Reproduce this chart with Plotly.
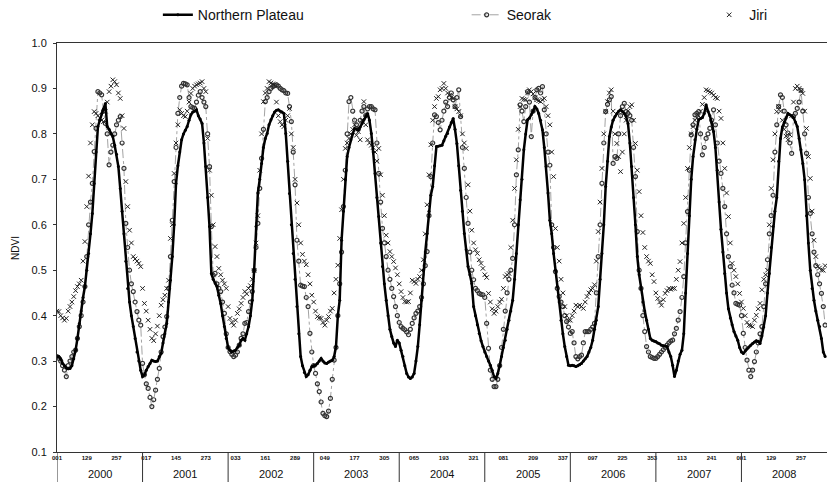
import plotly.graph_objects as go

# ---------------- data (8-day composites, 46 per year) ----------------
YEARS = ["2000", "2001", "2002", "2003", "2004", "2005", "2006", "2007", "2008"]

TICK_LABELS = ["001", "129", "257", "017", "145", "273", "033", "161", "289",
               "049", "177", "305", "065", "193", "321", "081", "209", "337",
               "097", "225", "353", "113", "241", "001", "129", "257"]

NORTHERN_PLATEAU = [
    # 2000
    0.31, 0.31, 0.305, 0.295, 0.29, 0.285, 0.283, 0.284, 0.29, 0.305, 0.324, 0.35, 0.383, 0.41, 0.44, 0.464,
    0.50, 0.537, 0.58, 0.625, 0.691, 0.76, 0.816, 0.83, 0.845, 0.855, 0.867, 0.816, 0.81, 0.80, 0.794, 0.775,
    0.755, 0.728, 0.68, 0.63, 0.58, 0.52, 0.46, 0.43, 0.40, 0.376, 0.35, 0.32, 0.30, 0.28,
    # 2001
    0.266, 0.27, 0.28, 0.288, 0.295, 0.302, 0.30, 0.299, 0.30, 0.31, 0.317, 0.34, 0.36, 0.383, 0.43, 0.478,
    0.53, 0.60, 0.691, 0.73, 0.76, 0.787, 0.80, 0.808, 0.816, 0.83, 0.842, 0.848, 0.85, 0.853, 0.84, 0.833,
    0.823, 0.78, 0.728, 0.66, 0.596, 0.493, 0.48, 0.472, 0.464, 0.445, 0.427, 0.40, 0.376, 0.35,
    # 2002
    0.33, 0.324, 0.32, 0.322, 0.324, 0.33, 0.335, 0.346, 0.35, 0.346, 0.36, 0.376, 0.40, 0.434, 0.50, 0.596,
    0.67, 0.70, 0.735, 0.77, 0.79, 0.801, 0.82, 0.831, 0.84, 0.848, 0.852, 0.853, 0.85, 0.848, 0.845, 0.801,
    0.74, 0.669, 0.60, 0.537, 0.48, 0.42, 0.36, 0.31, 0.29, 0.275, 0.266, 0.27, 0.28, 0.288,
    # 2003
    0.29, 0.291, 0.295, 0.30, 0.306, 0.30, 0.296, 0.295, 0.298, 0.30, 0.302, 0.31, 0.332, 0.40, 0.434, 0.566,
    0.63, 0.699, 0.75, 0.77, 0.787, 0.80, 0.812, 0.81, 0.809, 0.815, 0.823, 0.831, 0.84, 0.845, 0.83, 0.801,
    0.76, 0.713, 0.66, 0.618, 0.56, 0.508, 0.47, 0.434, 0.40, 0.37, 0.354, 0.34, 0.332, 0.346,
    # 2004
    0.34, 0.324, 0.31, 0.29, 0.273, 0.265, 0.262, 0.265, 0.273, 0.30, 0.332, 0.38, 0.434, 0.50, 0.54, 0.581,
    0.63, 0.665, 0.684, 0.73, 0.772, 0.773, 0.774, 0.775, 0.785, 0.795, 0.801, 0.815, 0.825, 0.834, 0.81, 0.779,
    0.73, 0.676, 0.63, 0.581, 0.545, 0.508, 0.49, 0.471, 0.42, 0.40, 0.38, 0.361, 0.345, 0.332,
    # 2005
    0.32, 0.31, 0.30, 0.291, 0.28, 0.266, 0.262, 0.273, 0.29, 0.31, 0.33, 0.346, 0.37, 0.39, 0.41, 0.434,
    0.48, 0.537, 0.60, 0.655, 0.70, 0.765, 0.80, 0.831, 0.835, 0.842, 0.85, 0.86, 0.855, 0.845, 0.83, 0.809,
    0.77, 0.728, 0.67, 0.61, 0.58, 0.537, 0.50, 0.464, 0.43, 0.39, 0.36, 0.332, 0.31, 0.291,
    # 2006
    0.29, 0.291, 0.29, 0.288, 0.29, 0.292, 0.295, 0.30, 0.305, 0.31, 0.32, 0.33, 0.346, 0.37, 0.39, 0.42,
    0.48, 0.537, 0.60, 0.684, 0.74, 0.794, 0.815, 0.83, 0.838, 0.845, 0.85, 0.853, 0.85, 0.845, 0.838, 0.823,
    0.78, 0.728, 0.66, 0.60, 0.53, 0.49, 0.46, 0.43, 0.41, 0.39, 0.37, 0.35, 0.346, 0.344,
    # 2007
    0.343, 0.34, 0.338, 0.335, 0.334, 0.333, 0.332, 0.32, 0.31, 0.291, 0.266, 0.28, 0.30, 0.315, 0.324, 0.36,
    0.45, 0.537, 0.62, 0.70, 0.75, 0.787, 0.81, 0.831, 0.834, 0.836, 0.845, 0.864, 0.85, 0.84, 0.825, 0.805,
    0.77, 0.72, 0.65, 0.59, 0.54, 0.493, 0.45, 0.415, 0.395, 0.38, 0.365, 0.355, 0.346, 0.33,
    # 2008
    0.32, 0.317, 0.322, 0.327, 0.331, 0.335, 0.339, 0.342, 0.345, 0.343, 0.339, 0.355, 0.375, 0.40, 0.45, 0.493,
    0.55, 0.596, 0.63, 0.66, 0.74, 0.79, 0.815, 0.825, 0.835, 0.845, 0.842, 0.84, 0.836, 0.826, 0.816, 0.79,
    0.765, 0.735, 0.699, 0.62, 0.56, 0.50, 0.46, 0.434, 0.41, 0.39, 0.376, 0.35, 0.32, 0.31,
]

SEORAK = [
    # 2000
    0.31, 0.306, 0.30, 0.29, 0.28, 0.266, 0.29, 0.30, 0.31, 0.32, 0.324, 0.35, 0.376, 0.40, 0.43, 0.464,
    0.53, 0.60, 0.65, 0.691, 0.761, 0.812, 0.893, 0.89, 0.886, 0.85, 0.823, 0.80, 0.732, 0.76, 0.775, 0.80,
    0.82, 0.83, 0.838, 0.78, 0.724, 0.603, 0.55, 0.50, 0.47, 0.453, 0.43, 0.409, 0.39, 0.379,
    # 2001
    0.295, 0.27, 0.25, 0.24, 0.22, 0.20, 0.215, 0.236, 0.26, 0.284, 0.32, 0.354, 0.375, 0.398, 0.46, 0.53,
    0.61, 0.695, 0.77, 0.845, 0.88, 0.905, 0.911, 0.91, 0.908, 0.88, 0.86, 0.858, 0.856, 0.87, 0.885, 0.893,
    0.88, 0.87, 0.86, 0.80, 0.728, 0.596, 0.489, 0.493, 0.47, 0.46, 0.453, 0.43, 0.405, 0.36,
    # 2002
    0.33, 0.321, 0.315, 0.31, 0.313, 0.32, 0.335, 0.35, 0.36, 0.383, 0.385, 0.409, 0.43, 0.453, 0.50, 0.55,
    0.603, 0.68, 0.746, 0.81, 0.871, 0.88, 0.893, 0.90, 0.904, 0.906, 0.908, 0.905, 0.90, 0.897, 0.895, 0.89,
    0.889, 0.86, 0.827, 0.76, 0.688, 0.566, 0.52, 0.467, 0.465, 0.464, 0.44, 0.42, 0.361, 0.32,
    # 2003
    0.29, 0.273, 0.25, 0.233, 0.21, 0.185, 0.18, 0.178, 0.19, 0.218, 0.26, 0.302, 0.33, 0.40, 0.47, 0.54,
    0.64, 0.72, 0.80, 0.871, 0.88, 0.85, 0.83, 0.82, 0.81, 0.83, 0.85, 0.86, 0.84, 0.855, 0.86, 0.86,
    0.855, 0.853, 0.78, 0.713, 0.65, 0.592, 0.56, 0.53, 0.50, 0.48, 0.46, 0.442, 0.42, 0.40,
    # 2004
    0.385, 0.376, 0.372, 0.369, 0.364, 0.358, 0.37, 0.383, 0.395, 0.405, 0.41, 0.42, 0.44, 0.47, 0.51, 0.541,
    0.62, 0.706, 0.78, 0.842, 0.838, 0.825, 0.809, 0.83, 0.85, 0.87, 0.86, 0.88, 0.89, 0.875, 0.86, 0.88,
    0.897, 0.838, 0.77, 0.724, 0.66, 0.603, 0.54, 0.50, 0.479, 0.46, 0.455, 0.449, 0.447, 0.446,
    # 2005
    0.44, 0.383, 0.328, 0.28, 0.26, 0.244, 0.244, 0.26, 0.29, 0.33, 0.37, 0.41, 0.45, 0.48, 0.50, 0.526,
    0.60, 0.71, 0.765, 0.864, 0.85, 0.827, 0.86, 0.893, 0.87, 0.794, 0.85, 0.88, 0.897, 0.90, 0.89, 0.904,
    0.853, 0.80, 0.76, 0.731, 0.60, 0.55, 0.497, 0.46, 0.442, 0.43, 0.42, 0.40, 0.387, 0.375,
    # 2006
    0.361, 0.365, 0.34, 0.31, 0.305, 0.31, 0.313, 0.34, 0.365, 0.365, 0.365, 0.37, 0.375, 0.383, 0.45, 0.53,
    0.60, 0.691, 0.78, 0.849, 0.865, 0.875, 0.882, 0.735, 0.75, 0.746, 0.80, 0.84, 0.86, 0.867, 0.849, 0.845,
    0.84, 0.83, 0.77, 0.706, 0.585, 0.50, 0.46, 0.40, 0.365, 0.332, 0.32, 0.31, 0.308, 0.306,
    # 2007
    0.306, 0.31, 0.315, 0.32, 0.325, 0.33, 0.335, 0.34, 0.344, 0.346, 0.36, 0.372, 0.39, 0.409, 0.44, 0.486,
    0.56, 0.629, 0.72, 0.798, 0.82, 0.842, 0.845, 0.849, 0.80, 0.754, 0.77, 0.79, 0.80, 0.812, 0.83, 0.853,
    0.82, 0.78, 0.74, 0.713, 0.68, 0.64, 0.58, 0.53, 0.508, 0.467, 0.45, 0.427, 0.425, 0.423,
    # 2008
    0.40, 0.361, 0.33, 0.302, 0.28, 0.266, 0.28, 0.299, 0.32, 0.34, 0.36, 0.376, 0.42, 0.47, 0.523, 0.58,
    0.62, 0.665, 0.76, 0.82, 0.86, 0.886, 0.88, 0.85, 0.82, 0.802, 0.78, 0.757, 0.838, 0.845, 0.856, 0.87,
    0.896, 0.85, 0.80, 0.757, 0.66, 0.625, 0.58, 0.54, 0.51, 0.49, 0.47, 0.449, 0.42, 0.379,
]

JIRI = [
    # 2000
    0.41, 0.409, 0.40, 0.395, 0.39, 0.394, 0.41, 0.42, 0.43, 0.442, 0.455, 0.464, 0.47, 0.478, 0.52, 0.563,
    0.64, 0.707, 0.78, 0.82, 0.849, 0.845, 0.84, 0.835, 0.83, 0.827, 0.85, 0.87, 0.893, 0.905, 0.919, 0.915,
    0.908, 0.89, 0.878, 0.84, 0.812, 0.695, 0.64, 0.588, 0.56, 0.53, 0.525, 0.52, 0.515, 0.508,
    # 2001
    0.46, 0.427, 0.41, 0.39, 0.37, 0.35, 0.345, 0.36, 0.377, 0.40, 0.423, 0.435, 0.445, 0.46, 0.478, 0.57,
    0.60, 0.713, 0.78, 0.82, 0.853, 0.845, 0.84, 0.838, 0.85, 0.87, 0.889, 0.90, 0.905, 0.908, 0.91, 0.912,
    0.915, 0.90, 0.893, 0.79, 0.72, 0.665, 0.60, 0.552, 0.53, 0.504, 0.49, 0.478, 0.47, 0.46,
    # 2002
    0.42, 0.394, 0.385, 0.379, 0.39, 0.405, 0.415, 0.427, 0.44, 0.453, 0.448, 0.46, 0.466, 0.48, 0.499, 0.56,
    0.62, 0.72, 0.80, 0.871, 0.89, 0.90, 0.915, 0.912, 0.91, 0.908, 0.87, 0.84, 0.827, 0.82, 0.816, 0.83,
    0.84, 0.856, 0.80, 0.77, 0.70, 0.648, 0.60, 0.56, 0.535, 0.52, 0.512, 0.49, 0.47, 0.445,
    # 2003
    0.43, 0.41, 0.398, 0.395, 0.394, 0.385, 0.379, 0.39, 0.398, 0.41, 0.416, 0.45, 0.48, 0.511, 0.57, 0.633,
    0.70, 0.768, 0.78, 0.79, 0.80, 0.81, 0.82, 0.797, 0.805, 0.787, 0.83, 0.871, 0.82, 0.787, 0.78, 0.775,
    0.77, 0.76, 0.74, 0.768, 0.71, 0.665, 0.62, 0.577, 0.56, 0.541, 0.53, 0.519, 0.505, 0.49,
    # 2004
    0.47, 0.453, 0.44, 0.431, 0.43, 0.431, 0.45, 0.478, 0.475, 0.471, 0.48, 0.486, 0.50, 0.523, 0.58, 0.644,
    0.71, 0.776, 0.83, 0.86, 0.878, 0.882, 0.897, 0.90, 0.911, 0.90, 0.89, 0.885, 0.88, 0.878, 0.86, 0.855,
    0.849, 0.84, 0.80, 0.78, 0.768, 0.688, 0.63, 0.588, 0.56, 0.545, 0.537, 0.523, 0.515, 0.504,
    # 2005
    0.49, 0.484, 0.449, 0.43, 0.415, 0.405, 0.41, 0.42, 0.43, 0.436, 0.46, 0.486, 0.49, 0.493, 0.55, 0.61,
    0.68, 0.743, 0.81, 0.86, 0.878, 0.876, 0.875, 0.89, 0.897, 0.893, 0.888, 0.88, 0.875, 0.873, 0.871, 0.875,
    0.878, 0.86, 0.84, 0.82, 0.76, 0.706, 0.592, 0.55, 0.52, 0.48, 0.45, 0.42, 0.40, 0.39,
    # 2006
    0.39, 0.40, 0.41, 0.423, 0.42, 0.423, 0.42, 0.416, 0.43, 0.442, 0.45, 0.457, 0.46, 0.468, 0.52, 0.585,
    0.65, 0.724, 0.80, 0.85, 0.871, 0.89, 0.897, 0.85, 0.80, 0.779, 0.75, 0.717, 0.76, 0.80, 0.83, 0.85,
    0.86, 0.864, 0.83, 0.779, 0.72, 0.673, 0.62, 0.583, 0.55, 0.53, 0.52, 0.515, 0.49, 0.475,
    # 2007
    0.45, 0.438, 0.43, 0.423, 0.435, 0.449, 0.455, 0.46, 0.458, 0.46, 0.46, 0.48, 0.50, 0.519, 0.56, 0.603,
    0.66, 0.724, 0.77, 0.80, 0.816, 0.83, 0.835, 0.84, 0.85, 0.865, 0.88, 0.897, 0.895, 0.892, 0.89, 0.885,
    0.88, 0.878, 0.85, 0.834, 0.78, 0.724, 0.67, 0.618, 0.56, 0.515, 0.50, 0.486, 0.47, 0.449,
    # 2008
    0.43, 0.416, 0.40, 0.385, 0.379, 0.378, 0.376, 0.39, 0.401, 0.415, 0.427, 0.457, 0.48, 0.49, 0.50, 0.60,
    0.68, 0.743, 0.80, 0.849, 0.86, 0.85, 0.83, 0.81, 0.795, 0.787, 0.798, 0.84, 0.87, 0.90, 0.905, 0.90,
    0.895, 0.889, 0.85, 0.812, 0.75, 0.702, 0.63, 0.566, 0.53, 0.508, 0.505, 0.50, 0.50, 0.51,
]

# ---------------- figure ----------------
n = len(NORTHERN_PLATEAU)
per_year = n // len(YEARS)
xs = list(range(n))
FONT = "Liberation Sans, Arial, sans-serif"

fig = go.Figure()

fig.add_trace(go.Scatter(
    x=xs, y=SEORAK, name="Seorak", mode="lines+markers", showlegend=True,
    line=dict(color="#8c8c8c", width=0.8, dash="dashdot"),
    marker=dict(symbol="circle-open", size=4, color="#333333", line=dict(width=1.2, color="#333333")),
    legend="legend2",
))
fig.add_trace(go.Scatter(
    x=xs, y=JIRI, name="Jiri", mode="markers", showlegend=True,
    marker=dict(symbol="x-thin", size=4.5, color="#222222", line=dict(width=1, color="#222222")),
    legend="legend3",
))
fig.add_trace(go.Scatter(
    x=xs, y=NORTHERN_PLATEAU, name="Northern Plateau", mode="lines+markers", showlegend=True,
    line=dict(color="#000000", width=2.5),
    marker=dict(symbol="circle", size=3, color="#000000"),
    legend="legend",
))

# year separators and year labels below the axis
shapes = []
annotations = []
for k, yr in enumerate(YEARS):
    shapes.append(dict(type="line", xref="x", yref="paper", x0=k * per_year, x1=k * per_year,
                       y0=0, y1=-0.075, line=dict(color="#333333", width=1)))
    annotations.append(dict(x=k * per_year + per_year / 2, y=-0.054, xref="x", yref="paper",
                            text=yr, showarrow=False, yanchor="middle",
                            font=dict(family=FONT, size=11, color="#111111")))
annotations.append(dict(x=-0.054, y=0.5, xref="paper", yref="paper", text="NDVI",
                        textangle=-90, showarrow=False, xanchor="center", yanchor="middle",
                        font=dict(family=FONT, size=10, color="#111111")))

legend_common = dict(orientation="h", yanchor="middle", y=1.068, xanchor="left", visible=True,
                     bgcolor="rgba(0,0,0,0)", font=dict(family=FONT, size=14, color="#111111"),
                     itemwidth=30, tracegroupgap=0)

fig.update_layout(
    width=827, height=482,
    margin=dict(l=57, r=0, t=43, b=30, autoexpand=False),
    showlegend=True,
    paper_bgcolor="white", plot_bgcolor="white",
    font=dict(family=FONT, color="#111111"),
    shapes=shapes, annotations=annotations,
    legend=dict(x=0.131, **legend_common),
    legend2=dict(x=0.532, **legend_common),
    legend3=dict(x=0.847, **legend_common),
    xaxis=dict(range=[0, n], tickmode="array", tickvals=list(range(0, n, 16)),
               ticktext=TICK_LABELS, tickfont=dict(family=FONT, size=6, color="#111111", weight="bold"),
               ticks="", showgrid=False, zeroline=False, showline=True, linecolor="#333333",
               linewidth=1, mirror=True, automargin=False),
    yaxis=dict(range=[0.1, 1.0], tick0=0.1, dtick=0.1, tickformat=".1f",
               tickfont=dict(family=FONT, size=11, color="#111111"),
               ticks="outside", ticklen=3, tickcolor="#333333", ticklabelstandoff=4,
               showgrid=False, zeroline=False, showline=True, linecolor="#333333", linewidth=1,
               automargin=False),
)

fig.write_html("out.html", config={"displayModeBar": False},
               post_script="document.body.style.margin='0';document.body.style.overflow='hidden';")
